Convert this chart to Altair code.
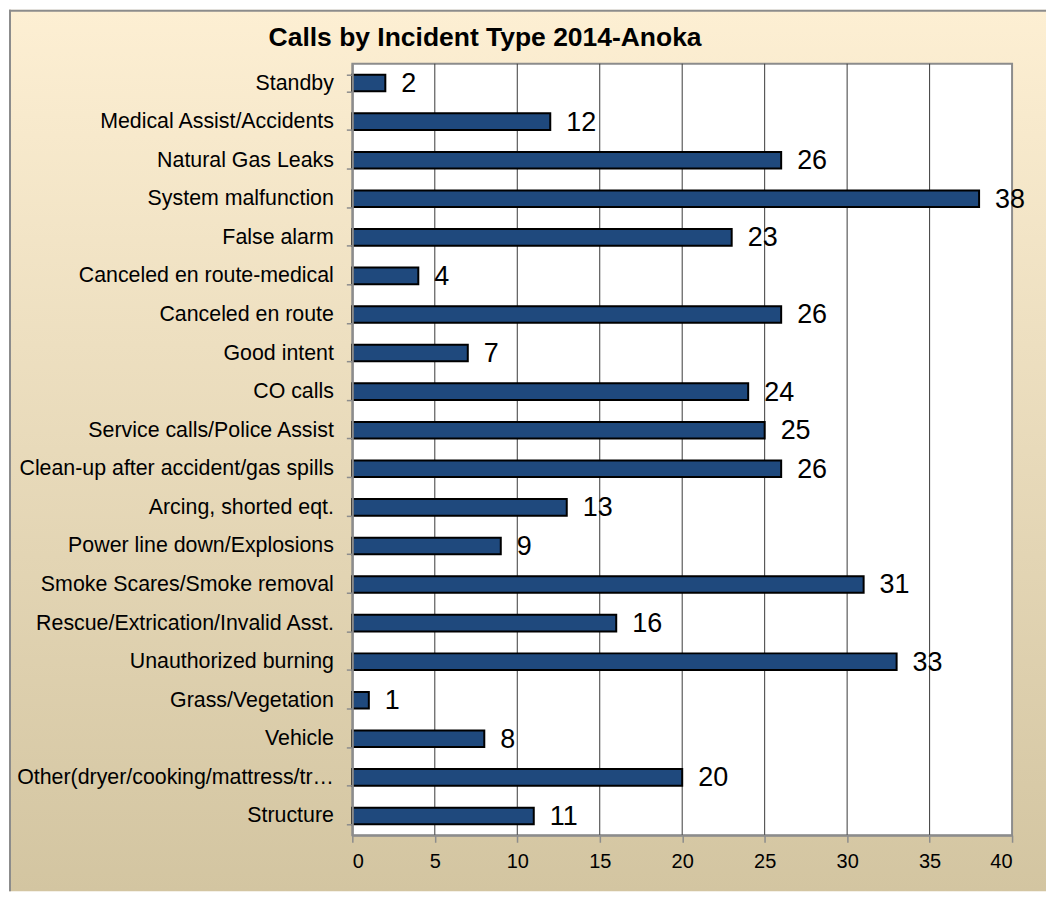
import altair as alt
import pandas as pd

categories = [
    "Standby",
    "Medical Assist/Accidents",
    "Natural Gas Leaks",
    "System malfunction",
    "False alarm",
    "Canceled en route-medical",
    "Canceled en route",
    "Good intent",
    "CO calls",
    "Service calls/Police Assist",
    "Clean-up after accident/gas spills",
    "Arcing, shorted eqt.",
    "Power line down/Explosions",
    "Smoke Scares/Smoke removal",
    "Rescue/Extrication/Invalid Asst.",
    "Unauthorized burning",
    "Grass/Vegetation",
    "Vehicle",
    "Other(dryer/cooking/mattress/tr\u2026",
    "Structure",
]
calls = [2, 12, 26, 38, 23, 4, 26, 7, 24, 25, 26, 13, 9, 31, 16, 33, 1, 8, 20, 11]
x_ticks = [0, 5, 10, 15, 20, 25, 30, 35, 40]
grid_values = [5, 10, 15, 20, 25, 30, 35]
title_text = "Calls by Incident Type 2014-Anoka"

FONT = "Liberation Sans, Arial, sans-serif"
W, H = 661, 773

df = pd.DataFrame({"category": categories, "calls": calls})
one = pd.DataFrame({"t": [title_text]})
grid_df = pd.DataFrame({"g": grid_values})

gradient = alt.LinearGradient(
    gradient="linear",
    stops=[
        alt.GradientStop(offset=0, color="#FDEFD3"),
        alt.GradientStop(offset=1, color="#D3C5A1"),
    ],
    x1=0, x2=0, y1=0, y2=1,
)

bg = alt.Chart(one).mark_rect(fill=gradient).encode(
    x=alt.value(-344), x2=alt.value(695), y=alt.value(-54), y2=alt.value(829)
)
border_top = alt.Chart(one).mark_rule(color="#8c8c8c", strokeWidth=2).encode(
    x=alt.value(-344), x2=alt.value(695), y=alt.value(-53)
)
border_left = alt.Chart(one).mark_rule(color="#8c8c8c", strokeWidth=2).encode(
    x=alt.value(-343), y=alt.value(-54), y2=alt.value(829)
)
plot_frame = alt.Chart(one).mark_rect(fill="white", stroke="#8c8c8c", strokeWidth=2).encode(
    x=alt.value(0), x2=alt.value("width"), y=alt.value(0), y2=alt.value("height")
)
grid = alt.Chart(grid_df).mark_rule(color="#3a3a3a", strokeWidth=1).encode(
    x=alt.X("g:Q"), y=alt.value(0), y2=alt.value("height")
)

x_enc = alt.X(
    "calls:Q",
    scale=alt.Scale(domain=[0, 40], nice=False, zero=True),
    axis=alt.Axis(
        values=x_ticks, grid=False, title=None, zindex=1,
        domainColor="#8c8c8c", domainWidth=2,
        tickColor="#8c8c8c", tickSize=7, tickWidth=1.5,
        labelFont=FONT, labelFontSize=20, labelColor="black", labelPadding=9,
    ),
)
y_enc = alt.Y(
    "category:N",
    sort=categories,
    scale=alt.Scale(paddingInner=0.57, paddingOuter=0.285),
    axis=alt.Axis(
        title=None, zindex=1, tickBand="extent",
        domainColor="#8c8c8c", domainWidth=2,
        tickColor="#8c8c8c", tickSize=6, tickWidth=1.5,
        labelFont=FONT, labelFontSize=21.4, labelColor="black",
        labelPadding=13, labelLimit=400,
    ),
)

bars = alt.Chart(df).mark_bar(color="#1F497D", stroke="black", strokeWidth=2).encode(
    x=x_enc, y=y_enc
)
labels = alt.Chart(df).mark_text(
    align="left", baseline="middle", dx=16, dy=1, font=FONT, fontSize=27, color="black"
).encode(x="calls:Q", y=alt.Y("category:N", sort=categories), text="calls:Q")

title = alt.Chart(one).mark_text(
    align="center", baseline="alphabetic", font=FONT, fontSize=26.5,
    fontWeight="bold", color="black"
).encode(x=alt.value(133), y=alt.value(-18), text="t:N")

chart = alt.layer(
    bg, border_top, border_left, plot_frame, grid, bars, labels, title
).properties(width=W, height=H, padding=0).configure_view(stroke=None)

chart.save("out.html", embed_options={"renderer": "svg", "actions": False})
